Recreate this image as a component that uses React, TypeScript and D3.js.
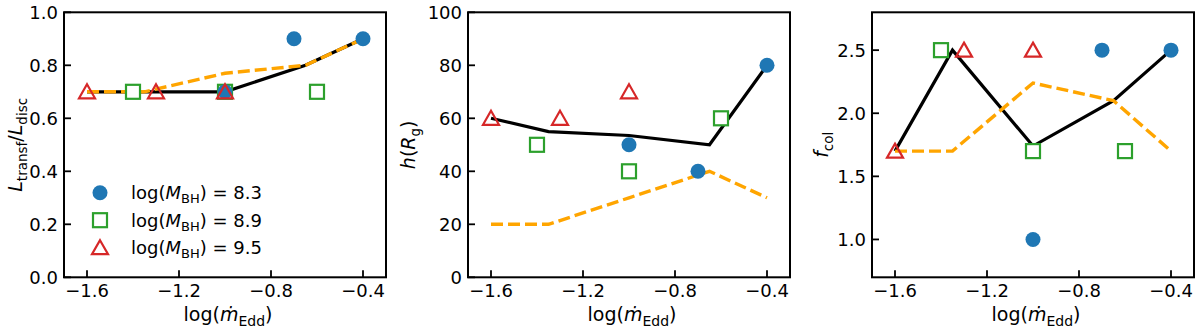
import React from 'react';
import * as d3 from 'd3';

// x positions of the model curves and of the three mass samples
const lineX = [-1.6, -1.35, -1.0, -0.65, -0.4];
const blueX = [-1.0, -0.7, -0.4];
const greenX = [-1.4, -1.0, -0.6];
const redX = [-1.6, -1.3, -1.0];

// panel 1: L_transf / L_disc
const black1 = [0.7, 0.7, 0.7, 0.8, 0.9];
const orange1 = [0.7, 0.7, 0.77, 0.8, 0.9];
const blue1 = [0.7, 0.9, 0.9];
const green1 = [0.7, 0.7, 0.7];
const red1 = [0.7, 0.7, 0.7];

// panel 2: h (R_g)
const black2 = [60, 55, 53.5, 50, 80];
const orange2 = [20, 20, 30, 40, 30];
const blue2 = [50, 40, 80];
const green2 = [50, 40, 60];
const red2 = [60, 60, 70];

// panel 3: f_col
const black3 = [1.7, 2.5, 1.74, 2.1, 2.5];
const orange3 = [1.7, 1.7, 2.24, 2.1, 1.7];
const blue3 = [1.0, 2.5, 2.5];
const green3 = [2.5, 1.7, 1.7];
const red3 = [1.7, 2.5, 2.5];

const xTicks = [-1.6, -1.2, -0.8, -0.4];
const legendLabels = ['8.3', '8.9', '9.5'];

const BLUE = '#1f77b4';
const GREEN = '#2ca02c';
const RED = '#d62728';
const ORANGE = '#ffa500';
const FONT = 'DejaVu Sans';

const W = 1200;
const H = 335;
const top = 12.3;
const bottom = 277.3;
const panelW = 322;

const panels = [
  {left: 64, yDomain: [0, 1], yTicks: [0, 0.2, 0.4, 0.6, 0.8, 1.0], fmt: '.1f',
    black: black1, orange: orange1, blue: blue1, green: green1, red: red1, labelX: 22, ylabel: 'L', legend: true},
  {left: 468, yDomain: [0, 100], yTicks: [0, 20, 40, 60, 80, 100], fmt: 'd',
    black: black2, orange: orange2, blue: blue2, green: green2, red: red2, labelX: 415, ylabel: 'h'},
  {left: 872, yDomain: [0.7, 2.8], yTicks: [1.0, 1.5, 2.0, 2.5], fmt: '.1f',
    black: black3, orange: orange3, blue: blue3, green: green3, red: red3, labelX: 828, ylabel: 'f'},
];

const tri = (cx, cy) => `M${cx},${cy - 7.5}L${cx + 8},${cy + 6.5}L${cx - 8},${cy + 6.5}Z`;

const Circle = ({cx, cy}) => <circle cx={cx} cy={cy} r={7.5} fill={BLUE} />;
const Square = ({cx, cy}) => (
  <rect x={cx - 7} y={cy - 7} width={14} height={14} fill="white" stroke={GREEN} strokeWidth={2.2} />
);
const Tri = ({cx, cy}) => <path d={tri(cx, cy)} fill="none" stroke={RED} strokeWidth={2.2} strokeLinejoin="miter" />;

const YLabel = ({kind}) => {
  if (kind === 'L') {
    return (
      <>
        <tspan fontStyle="italic">L</tspan>
        <tspan fontSize={13.5} dy={5}>transf</tspan>
        <tspan dy={-5}>/</tspan>
        <tspan fontStyle="italic">L</tspan>
        <tspan fontSize={13.5} dy={5}>disc</tspan>
      </>
    );
  }
  if (kind === 'h') {
    return (
      <>
        <tspan fontStyle="italic">h</tspan>
        <tspan>(</tspan>
        <tspan fontStyle="italic">R</tspan>
        <tspan fontSize={13.5} dy={5}>g</tspan>
        <tspan dy={-5}>)</tspan>
      </>
    );
  }
  return (
    <>
      <tspan fontStyle="italic">f</tspan>
      <tspan fontSize={13.5} dy={5}>col</tspan>
    </>
  );
};

const Panel = ({p}) => {
  const x = d3.scaleLinear().domain([-1.7, -0.3]).range([p.left, p.left + panelW]);
  const y = d3.scaleLinear().domain(p.yDomain).range([bottom, top]);
  const line = d3.line().x((d) => x(d[0])).y((d) => y(d[1]));
  const fmt = d3.format(p.fmt);
  const midX = p.left + panelW / 2;
  const midY = (top + bottom) / 2;
  return (
    <g>
      {/* model curves */}
      <path d={line(lineX.map((v, i) => [v, p.black[i]]))} fill="none" stroke="black" strokeWidth={3.2} />
      <path d={line(lineX.map((v, i) => [v, p.orange[i]]))} fill="none" stroke={ORANGE} strokeWidth={3.4}
        strokeDasharray="12,5" />
      {/* samples */}
      {greenX.map((v, i) => <Square key={'g' + i} cx={x(v)} cy={y(p.green[i])} />)}
      {blueX.map((v, i) => <Circle key={'b' + i} cx={x(v)} cy={y(p.blue[i])} />)}
      {redX.map((v, i) => <Tri key={'r' + i} cx={x(v)} cy={y(p.red[i])} />)}

      {/* frame */}
      <rect x={p.left} y={top} width={panelW} height={bottom - top} fill="none" stroke="black" strokeWidth={2} />
      {xTicks.map((t) => (
        <g key={t}>
          <line x1={x(t)} x2={x(t)} y1={bottom} y2={bottom - 7} stroke="black" strokeWidth={1.8} />
          <text x={x(t)} y={297} textAnchor="middle" fontSize={18} fontFamily={FONT}>{d3.format('.1f')(t)}</text>
        </g>
      ))}
      {p.yTicks.map((t) => (
        <g key={t}>
          <line x1={p.left} x2={p.left + 7} y1={y(t)} y2={y(t)} stroke="black" strokeWidth={1.8} />
          <text x={p.left - 6} y={y(t) + 6.5} textAnchor="end" fontSize={18} fontFamily={FONT}>{fmt(t)}</text>
        </g>
      ))}
      <text x={midX + 3} y={321} textAnchor="middle" fontSize={19} fontFamily={FONT}>
        <tspan>log(</tspan>
        <tspan fontStyle="italic">ṁ</tspan>
        <tspan fontSize={14} dy={5}>Edd</tspan>
        <tspan dy={-5}>)</tspan>
      </text>
      <text transform={`translate(${p.labelX},${midY}) rotate(-90)`} textAnchor="middle" fontSize={19}
        fontFamily={FONT} dy={0}>
        <YLabel kind={p.ylabel} />
      </text>

      {p.legend && legendLabels.map((lab, i) => {
        const ly = 192.7 + i * 27.5;
        return (
          <g key={lab}>
            {i === 0 && <Circle cx={100} cy={ly} />}
            {i === 1 && <Square cx={100} cy={ly} />}
            {i === 2 && <Tri cx={100} cy={ly} />}
            <text x={131} y={ly + 6.5} fontSize={18} fontFamily={FONT}>
              <tspan>log(</tspan>
              <tspan fontStyle="italic">M</tspan>
              <tspan fontSize={13} dy={4}>BH</tspan>
              <tspan dy={-4}>) = {lab}</tspan>
            </text>
          </g>
        );
      })}
    </g>
  );
};

export default function App() {
  return (
    <svg width={W} height={H} style={{position: 'absolute', left: 0, top: 0, background: 'white'}}>
      <rect width={W} height={H} fill="white" />
      {panels.map((p, i) => <Panel key={i} p={p} />)}
    </svg>
  );
}
